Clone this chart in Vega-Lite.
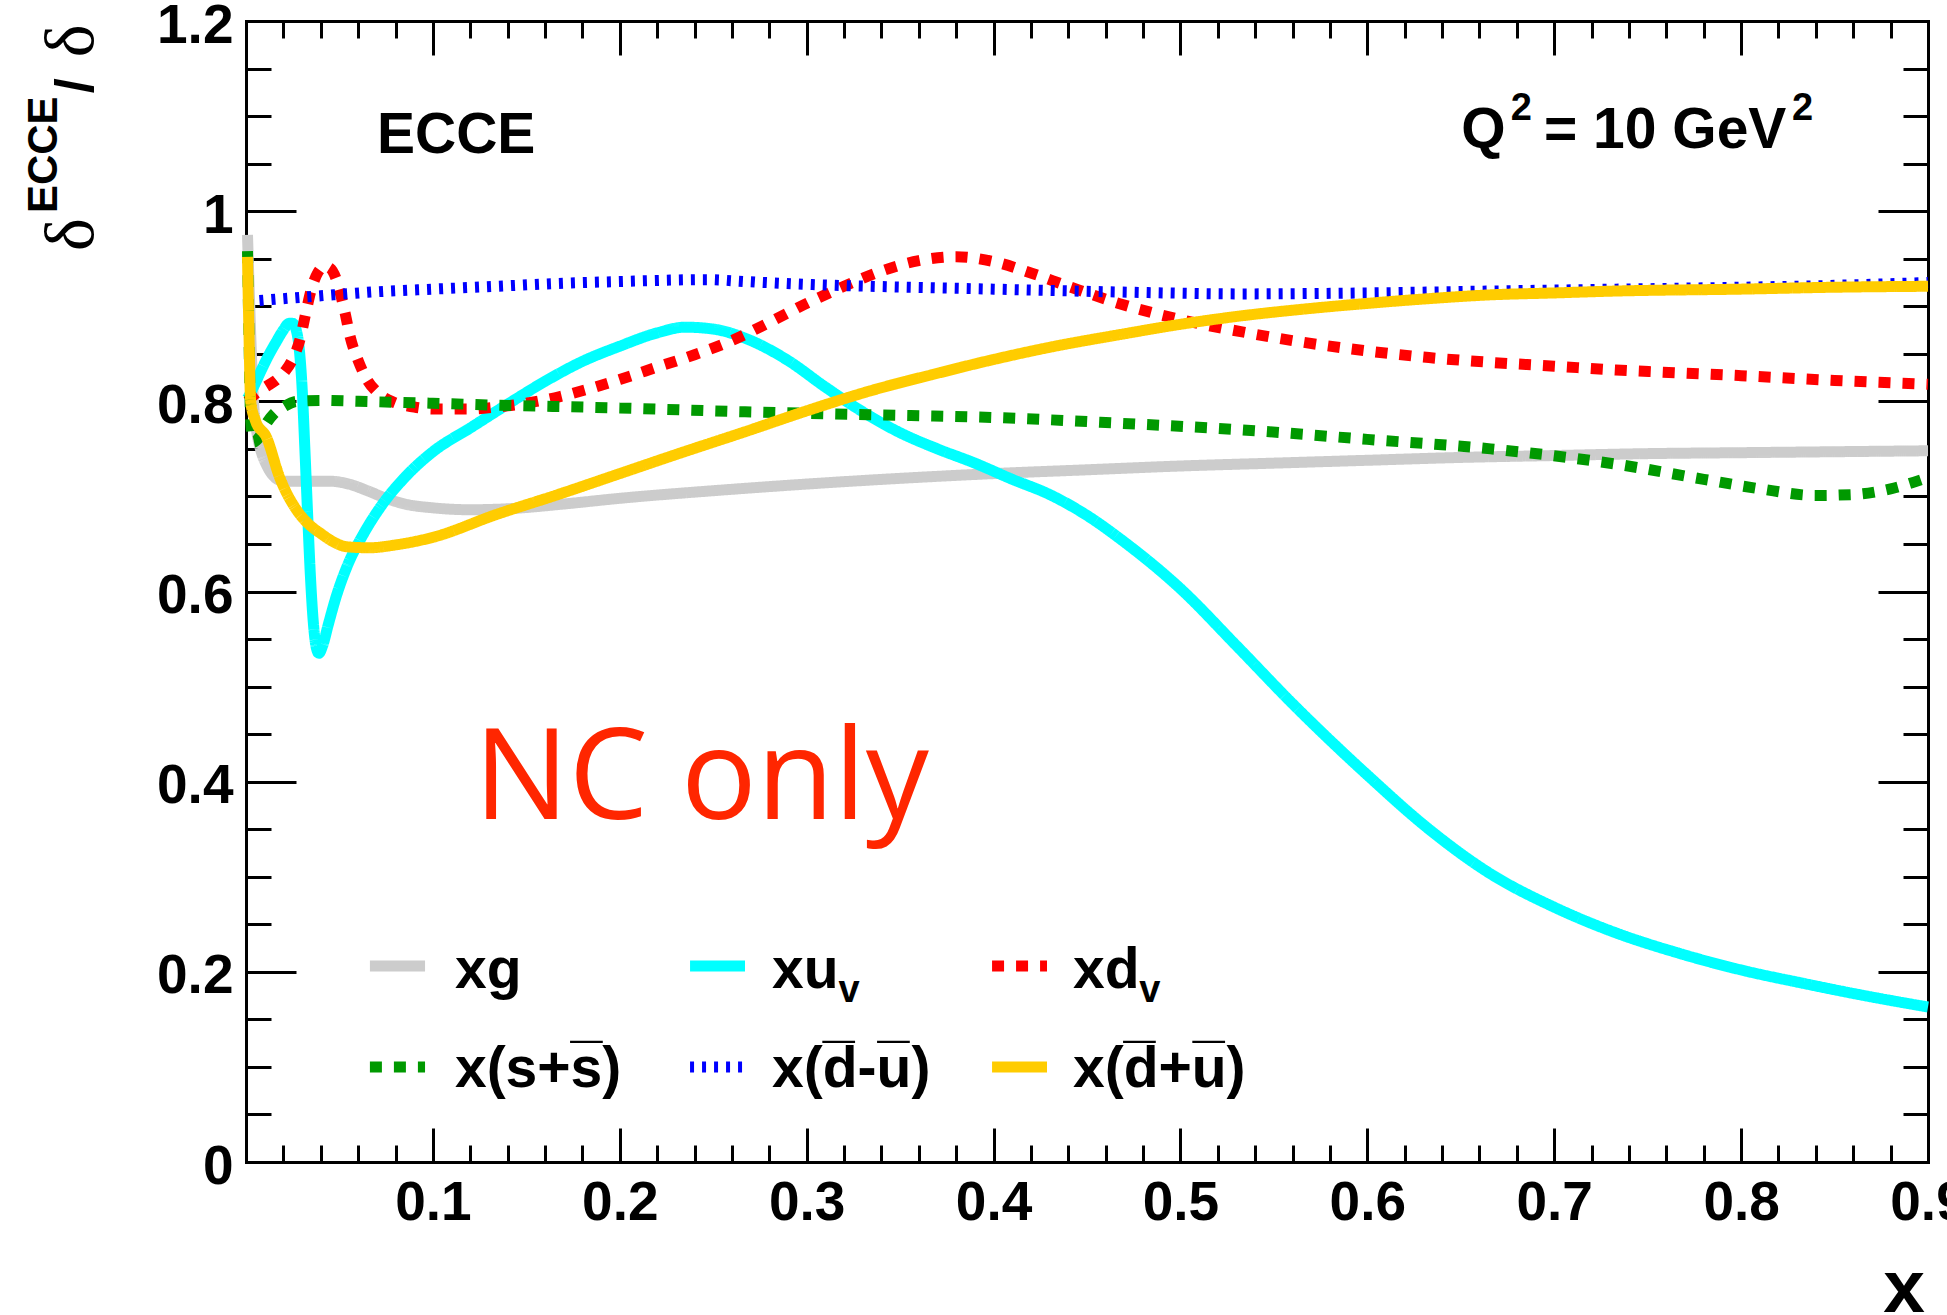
{
 "$schema": "https://vega.github.io/schema/vega-lite/v6.json",
 "width": 1682, "height": 1141,
 "autosize": {"type": "none"},
 "padding": {"left": 246, "top": 21, "right": 19, "bottom": 153},
 "background": "white",
 "config": {
  "view": {"stroke": null},
  "axis": {"grid": false, "domain": false, "tickColor": "black", "tickWidth": 3, "labelFont": "Liberation Sans", "labelFontWeight": "bold", "labelColor": "black", "labelFontSize": 55, "labelFlush": false, "labelOverlap": false, "zindex": 1, "domainColor": "black", "domainWidth": 3, "domainCap": "square"}
 },
 "resolve": {"axis": {"x": "independent", "y": "independent"}},
 "layer": [
  {
   "mark": {"type": "rule", "strokeDash": [12, 12], "strokeWidth": 2.5, "color": "black"},
   "encoding": {"y": {"datum": 1, "type": "quantitative", "scale": {"domain": [0, 1.2], "nice": false, "zero": false}, "axis": null}}
  },
  {
   "data": {"values": [
    {"s":"xg","x":0.0008,"y":0.975},{"s":"xg","x":0.002,"y":0.9},{"s":"xg","x":0.004,"y":0.8},{"s":"xg","x":0.006,"y":0.765},{"s":"xg","x":0.008,"y":0.748},{"s":"xg","x":0.011,"y":0.733},{"s":"xg","x":0.0145,"y":0.722},{"s":"xg","x":0.02,"y":0.716},{"s":"xg","x":0.03,"y":0.716},{"s":"xg","x":0.045,"y":0.716},{"s":"xg","x":0.055,"y":0.713},{"s":"xg","x":0.065,"y":0.706},{"s":"xg","x":0.075,"y":0.698},{"s":"xg","x":0.085,"y":0.692},{"s":"xg","x":0.1,"y":0.688},{"s":"xg","x":0.12,"y":0.686},{"s":"xg","x":0.14,"y":0.687},{"s":"xg","x":0.17,"y":0.692},{"s":"xg","x":0.2,"y":0.698},{"s":"xg","x":0.25,"y":0.706},{"s":"xg","x":0.3,"y":0.713},{"s":"xg","x":0.35,"y":0.719},{"s":"xg","x":0.4,"y":0.724},{"s":"xg","x":0.45,"y":0.728},{"s":"xg","x":0.5,"y":0.732},{"s":"xg","x":0.55,"y":0.735},{"s":"xg","x":0.6,"y":0.738},{"s":"xg","x":0.65,"y":0.741},{"s":"xg","x":0.7,"y":0.743},{"s":"xg","x":0.75,"y":0.745},{"s":"xg","x":0.8,"y":0.746},{"s":"xg","x":0.85,"y":0.747},{"s":"xg","x":0.9,"y":0.748},
    {"s":"xuv","x":0.0008,"y":0.803},{"s":"xuv","x":0.004,"y":0.815},{"s":"xuv","x":0.008,"y":0.832},{"s":"xuv","x":0.012,"y":0.848},{"s":"xuv","x":0.016,"y":0.862},{"s":"xuv","x":0.02,"y":0.875},{"s":"xuv","x":0.023,"y":0.882},{"s":"xuv","x":0.025,"y":0.882},{"s":"xuv","x":0.027,"y":0.874},{"s":"xuv","x":0.0285,"y":0.855},{"s":"xuv","x":0.03,"y":0.815},{"s":"xuv","x":0.0315,"y":0.75},{"s":"xuv","x":0.033,"y":0.68},{"s":"xuv","x":0.0345,"y":0.615},{"s":"xuv","x":0.036,"y":0.568},{"s":"xuv","x":0.0375,"y":0.542},{"s":"xuv","x":0.039,"y":0.535},{"s":"xuv","x":0.041,"y":0.543},{"s":"xuv","x":0.044,"y":0.565},{"s":"xuv","x":0.048,"y":0.593},{"s":"xuv","x":0.054,"y":0.626},{"s":"xuv","x":0.063,"y":0.661},{"s":"xuv","x":0.072,"y":0.689},{"s":"xuv","x":0.085,"y":0.72},{"s":"xuv","x":0.1,"y":0.747},{"s":"xuv","x":0.12,"y":0.772},{"s":"xuv","x":0.14,"y":0.797},{"s":"xuv","x":0.16,"y":0.821},{"s":"xuv","x":0.18,"y":0.842},{"s":"xuv","x":0.2,"y":0.858},{"s":"xuv","x":0.22,"y":0.872},{"s":"xuv","x":0.235,"y":0.878},{"s":"xuv","x":0.25,"y":0.876},{"s":"xuv","x":0.27,"y":0.864},{"s":"xuv","x":0.29,"y":0.843},{"s":"xuv","x":0.31,"y":0.815},{"s":"xuv","x":0.33,"y":0.789},{"s":"xuv","x":0.35,"y":0.767},{"s":"xuv","x":0.37,"y":0.75},{"s":"xuv","x":0.39,"y":0.735},{"s":"xuv","x":0.41,"y":0.718},{"s":"xuv","x":0.43,"y":0.702},{"s":"xuv","x":0.45,"y":0.68},{"s":"xuv","x":0.47,"y":0.652},{"s":"xuv","x":0.5,"y":0.603},{"s":"xuv","x":0.53,"y":0.543},{"s":"xuv","x":0.56,"y":0.482},{"s":"xuv","x":0.6,"y":0.407},{"s":"xuv","x":0.633,"y":0.35},{"s":"xuv","x":0.666,"y":0.303},{"s":"xuv","x":0.7,"y":0.268},{"s":"xuv","x":0.733,"y":0.241},{"s":"xuv","x":0.766,"y":0.22},{"s":"xuv","x":0.8,"y":0.202},{"s":"xuv","x":0.833,"y":0.188},{"s":"xuv","x":0.866,"y":0.175},{"s":"xuv","x":0.9,"y":0.163},
    {"s":"xdv","x":0.0008,"y":0.8},{"s":"xdv","x":0.004,"y":0.806},{"s":"xdv","x":0.008,"y":0.812},{"s":"xdv","x":0.012,"y":0.817},{"s":"xdv","x":0.0166,"y":0.823},{"s":"xdv","x":0.021,"y":0.832},{"s":"xdv","x":0.0246,"y":0.843},{"s":"xdv","x":0.029,"y":0.866},{"s":"xdv","x":0.032,"y":0.893},{"s":"xdv","x":0.035,"y":0.918},{"s":"xdv","x":0.0386,"y":0.936},{"s":"xdv","x":0.042,"y":0.942},{"s":"xdv","x":0.045,"y":0.94},{"s":"xdv","x":0.048,"y":0.93},{"s":"xdv","x":0.05,"y":0.917},{"s":"xdv","x":0.053,"y":0.893},{"s":"xdv","x":0.0557,"y":0.868},{"s":"xdv","x":0.06,"y":0.843},{"s":"xdv","x":0.065,"y":0.822},{"s":"xdv","x":0.07,"y":0.81},{"s":"xdv","x":0.079,"y":0.799},{"s":"xdv","x":0.09,"y":0.794},{"s":"xdv","x":0.1,"y":0.792},{"s":"xdv","x":0.12,"y":0.792},{"s":"xdv","x":0.134,"y":0.794},{"s":"xdv","x":0.15,"y":0.798},{"s":"xdv","x":0.168,"y":0.805},{"s":"xdv","x":0.185,"y":0.814},{"s":"xdv","x":0.2,"y":0.823},{"s":"xdv","x":0.22,"y":0.836},{"s":"xdv","x":0.24,"y":0.849},{"s":"xdv","x":0.26,"y":0.864},{"s":"xdv","x":0.28,"y":0.883},{"s":"xdv","x":0.3,"y":0.903},{"s":"xdv","x":0.32,"y":0.921},{"s":"xdv","x":0.34,"y":0.937},{"s":"xdv","x":0.36,"y":0.948},{"s":"xdv","x":0.38,"y":0.952},{"s":"xdv","x":0.4,"y":0.947},{"s":"xdv","x":0.42,"y":0.935},{"s":"xdv","x":0.44,"y":0.921},{"s":"xdv","x":0.467,"y":0.903},{"s":"xdv","x":0.5,"y":0.886},{"s":"xdv","x":0.533,"y":0.873},{"s":"xdv","x":0.566,"y":0.862},{"s":"xdv","x":0.6,"y":0.853},{"s":"xdv","x":0.633,"y":0.846},{"s":"xdv","x":0.666,"y":0.841},{"s":"xdv","x":0.7,"y":0.837},{"s":"xdv","x":0.733,"y":0.833},{"s":"xdv","x":0.766,"y":0.83},{"s":"xdv","x":0.8,"y":0.827},{"s":"xdv","x":0.85,"y":0.822},{"s":"xdv","x":0.9,"y":0.818},
    {"s":"xss","x":0.0008,"y":0.958},{"s":"xss","x":0.0015,"y":0.88},{"s":"xss","x":0.0025,"y":0.78},{"s":"xss","x":0.004,"y":0.757},{"s":"xss","x":0.007,"y":0.762},{"s":"xss","x":0.011,"y":0.777},{"s":"xss","x":0.015,"y":0.787},{"s":"xss","x":0.02,"y":0.794},{"s":"xss","x":0.027,"y":0.8},{"s":"xss","x":0.04,"y":0.801},{"s":"xss","x":0.06,"y":0.8},{"s":"xss","x":0.08,"y":0.799},{"s":"xss","x":0.1,"y":0.798},{"s":"xss","x":0.134,"y":0.796},{"s":"xss","x":0.2,"y":0.793},{"s":"xss","x":0.267,"y":0.789},{"s":"xss","x":0.333,"y":0.786},{"s":"xss","x":0.4,"y":0.783},{"s":"xss","x":0.467,"y":0.777},{"s":"xss","x":0.533,"y":0.77},{"s":"xss","x":0.6,"y":0.76},{"s":"xss","x":0.666,"y":0.75},{"s":"xss","x":0.733,"y":0.734},{"s":"xss","x":0.78,"y":0.718},{"s":"xss","x":0.81,"y":0.708},{"s":"xss","x":0.84,"y":0.701},{"s":"xss","x":0.86,"y":0.702},{"s":"xss","x":0.88,"y":0.708},{"s":"xss","x":0.9,"y":0.72},
    {"s":"xdmu","x":0.0008,"y":0.905},{"s":"xdmu","x":0.02,"y":0.908},{"s":"xdmu","x":0.04,"y":0.911},{"s":"xdmu","x":0.068,"y":0.915},{"s":"xdmu","x":0.1,"y":0.918},{"s":"xdmu","x":0.134,"y":0.921},{"s":"xdmu","x":0.167,"y":0.924},{"s":"xdmu","x":0.2,"y":0.926},{"s":"xdmu","x":0.247,"y":0.928},{"s":"xdmu","x":0.267,"y":0.926},{"s":"xdmu","x":0.3,"y":0.923},{"s":"xdmu","x":0.334,"y":0.921},{"s":"xdmu","x":0.4,"y":0.918},{"s":"xdmu","x":0.467,"y":0.915},{"s":"xdmu","x":0.533,"y":0.913},{"s":"xdmu","x":0.6,"y":0.914},{"s":"xdmu","x":0.666,"y":0.916},{"s":"xdmu","x":0.733,"y":0.918},{"s":"xdmu","x":0.8,"y":0.92},{"s":"xdmu","x":0.85,"y":0.922},{"s":"xdmu","x":0.9,"y":0.925},
    {"s":"xdpu","x":0.0008,"y":0.952},{"s":"xdpu","x":0.0015,"y":0.88},{"s":"xdpu","x":0.0025,"y":0.8},{"s":"xdpu","x":0.005,"y":0.78},{"s":"xdpu","x":0.011,"y":0.762},{"s":"xdpu","x":0.018,"y":0.72},{"s":"xdpu","x":0.027,"y":0.686},{"s":"xdpu","x":0.034,"y":0.67},{"s":"xdpu","x":0.04,"y":0.661},{"s":"xdpu","x":0.047,"y":0.652},{"s":"xdpu","x":0.054,"y":0.647},{"s":"xdpu","x":0.066,"y":0.646},{"s":"xdpu","x":0.08,"y":0.649},{"s":"xdpu","x":0.1,"y":0.657},{"s":"xdpu","x":0.134,"y":0.681},{"s":"xdpu","x":0.167,"y":0.702},{"s":"xdpu","x":0.2,"y":0.724},{"s":"xdpu","x":0.233,"y":0.746},{"s":"xdpu","x":0.267,"y":0.768},{"s":"xdpu","x":0.3,"y":0.79},{"s":"xdpu","x":0.334,"y":0.811},{"s":"xdpu","x":0.367,"y":0.828},{"s":"xdpu","x":0.4,"y":0.844},{"s":"xdpu","x":0.433,"y":0.858},{"s":"xdpu","x":0.467,"y":0.87},{"s":"xdpu","x":0.5,"y":0.881},{"s":"xdpu","x":0.533,"y":0.89},{"s":"xdpu","x":0.566,"y":0.897},{"s":"xdpu","x":0.6,"y":0.903},{"s":"xdpu","x":0.633,"y":0.908},{"s":"xdpu","x":0.666,"y":0.912},{"s":"xdpu","x":0.7,"y":0.914},{"s":"xdpu","x":0.733,"y":0.916},{"s":"xdpu","x":0.8,"y":0.918},{"s":"xdpu","x":0.85,"y":0.92},{"s":"xdpu","x":0.9,"y":0.921}
   ]},
   "mark": {"type": "line", "strokeWidth": 11, "interpolate": "monotone"},
   "encoding": {
    "x": {"field": "x", "type": "quantitative", "scale": {"domain": [0, 0.9], "nice": false, "zero": false},
          "axis": {"orient": "bottom", "values": [0.1,0.2,0.3,0.4,0.5,0.6,0.7,0.8,0.9], "format": "~g", "ticks": false, "labelPadding": 14, "domain": true, "title": null}},
    "y": {"field": "y", "type": "quantitative", "scale": {"domain": [0, 1.2], "nice": false, "zero": false},
          "axis": {"orient": "left", "values": [0,0.2,0.4,0.6,0.8,1,1.2], "format": "~g", "ticks": false, "labelPadding": 13, "labelOffset": 4, "domain": true, "title": null}},
    "color": {"field": "s", "type": "nominal", "scale": {"domain": ["xg","xuv","xdv","xss","xdmu","xdpu"], "range": ["#cccccc","#00ffff","#ff0000","#009900","#0000ff","#ffcc00"]}, "legend": null},
    "strokeDash": {"field": "s", "type": "nominal", "scale": {"domain": ["xg","xuv","xdv","xss","xdmu","xdpu"], "range": [[1,0],[1,0],[12,12],[12,12],[4,8],[1,0]]}, "legend": null}
   }
  },
  {
   "data": {"values": [
    {"s":"xg","x1":0.0663,"x2":0.0958,"y":0.2061},
    {"s":"xuv","x1":0.2376,"x2":0.267,"y":0.2061},
    {"s":"xdv","x1":0.3992,"x2":0.4286,"y":0.2061},
    {"s":"xss","x1":0.0663,"x2":0.0958,"y":0.0999},
    {"s":"xdmu","x1":0.2376,"x2":0.267,"y":0.0999},
    {"s":"xdpu","x1":0.3992,"x2":0.4286,"y":0.0999}
   ]},
   "mark": {"type": "rule", "strokeWidth": 11},
   "encoding": {
    "x": {"field": "x1", "type": "quantitative", "scale": {"domain": [0, 0.9], "nice": false, "zero": false},
          "axis": {"orient": "bottom", "values": [0.1,0.2,0.3,0.4,0.5,0.6,0.7,0.8], "tickSize": -34, "labels": false, "title": null}},
    "x2": {"field": "x2"},
    "y": {"field": "y", "type": "quantitative", "scale": {"domain": [0, 1.2], "nice": false, "zero": false},
          "axis": {"orient": "left", "values": [0.2,0.4,0.6,0.8,1], "tickSize": -50, "labels": false, "title": null}},
    "color": {"field": "s", "type": "nominal", "legend": null},
    "strokeDash": {"field": "s", "type": "nominal", "legend": null}
   }
  },
  {
   "data": {"values": [
    {"t":"ECCE","x":0.0701,"y":1.0612},
    {"t":"Q","x":0.6502,"y":1.0665},
    {"t":"= 10 GeV","x":0.6945,"y":1.0665},
    {"t":"xg","x":0.1118,"y":0.183},
    {"t":"xu","x":0.2815,"y":0.183},
    {"t":"xd","x":0.4425,"y":0.183},
    {"t":"x(s+s̅)","x":0.1118,"y":0.0789},
    {"t":"x(d̅-u̅)","x":0.2815,"y":0.0789},
    {"t":"x(d̅+u̅)","x":0.4425,"y":0.0789}
   ]},
   "mark": {"type": "text", "font": "Liberation Sans", "fontWeight": "bold", "fontSize": 57, "align": "left", "baseline": "alphabetic", "color": "black"},
   "encoding": {
    "x": {"field": "x", "type": "quantitative", "scale": {"domain": [0, 0.9], "nice": false, "zero": false},
          "axis": {"orient": "bottom", "values": [0.02,0.04,0.06,0.08,0.12,0.14,0.16,0.18,0.22,0.24,0.26,0.28,0.32,0.34,0.36,0.38,0.42,0.44,0.46,0.48,0.52,0.54,0.56,0.58,0.62,0.64,0.66,0.68,0.72,0.74,0.76,0.78,0.82,0.84,0.86,0.88], "tickSize": -17, "labels": false, "title": null}},
    "y": {"field": "y", "type": "quantitative", "scale": {"domain": [0, 1.2], "nice": false, "zero": false},
          "axis": {"orient": "left", "values": [0.05,0.1,0.15,0.25,0.3,0.35,0.45,0.5,0.55,0.65,0.7,0.75,0.85,0.9,0.95,1.05,1.1,1.15], "tickSize": -25, "labels": false, "title": null}},
    "text": {"field": "t"}
   }
  },
  {
   "data": {"values": [
    {"t":"2","x":0.6767,"y":1.0959},
    {"t":"2","x":0.8272,"y":1.0959},
    {"t":"v","x":0.317,"y":0.1683},
    {"t":"v","x":0.478,"y":0.1683}
   ]},
   "mark": {"type": "text", "font": "Liberation Sans", "fontWeight": "bold", "fontSize": 38, "align": "left", "baseline": "alphabetic", "color": "black"},
   "encoding": {
    "x": {"field": "x", "type": "quantitative", "scale": {"domain": [0, 0.9], "nice": false, "zero": false},
          "axis": {"orient": "top", "values": [0.1,0.2,0.3,0.4,0.5,0.6,0.7,0.8], "tickSize": -34, "labels": false, "domain": true, "title": null}},
    "y": {"field": "y", "type": "quantitative", "scale": {"domain": [0, 1.2], "nice": false, "zero": false},
          "axis": {"orient": "right", "values": [0.2,0.4,0.6,0.8,1], "tickSize": -50, "labels": false, "domain": true, "title": null}},
    "text": {"field": "t"}
   }
  },
  {
   "data": {"values": [{"t":"NC only","x":0.122,"y":0.3608}]},
   "mark": {"type": "text", "font": "Open Sans", "fontSize": 126, "align": "left", "baseline": "alphabetic", "color": "#ff2600"},
   "encoding": {
    "x": {"field": "x", "type": "quantitative", "scale": {"domain": [0, 0.9], "nice": false, "zero": false},
          "axis": {"orient": "top", "values": [0.02,0.04,0.06,0.08,0.12,0.14,0.16,0.18,0.22,0.24,0.26,0.28,0.32,0.34,0.36,0.38,0.42,0.44,0.46,0.48,0.52,0.54,0.56,0.58,0.62,0.64,0.66,0.68,0.72,0.74,0.76,0.78,0.82,0.84,0.86,0.88], "tickSize": -17, "labels": false, "title": null}},
    "y": {"field": "y", "type": "quantitative", "scale": {"domain": [0, 1.2], "nice": false, "zero": false},
          "axis": {"orient": "right", "values": [0.05,0.1,0.15,0.25,0.3,0.35,0.45,0.5,0.55,0.65,0.7,0.75,0.85,0.9,0.95,1.05,1.1,1.15], "tickSize": -25, "labels": false, "title": null}},
    "text": {"field": "t"}
   }
  },
  {
   "data": {"values": [{"t":"x","x":0.8984,"y":-0.1578}]},
   "mark": {"type": "text", "font": "Liberation Sans", "fontWeight": "bold", "fontSize": 75, "align": "right", "baseline": "alphabetic", "color": "black"},
   "encoding": {
    "x": {"field": "x", "type": "quantitative", "scale": {"domain": [0, 0.9], "nice": false, "zero": false}, "axis": null},
    "y": {"field": "y", "type": "quantitative", "scale": {"domain": [0, 1.2], "nice": false, "zero": false}, "axis": null},
    "text": {"field": "t"}
   }
  },
  {
   "data": {"values": [{"t":"δ","x":-0.0819,"y":0.958},{"t":"δ","x":-0.0819,"y":1.162}]},
   "mark": {"type": "text", "font": "Liberation Serif", "fontSize": 70, "angle": 270, "align": "left", "baseline": "alphabetic", "color": "black"},
   "encoding": {
    "x": {"field": "x", "type": "quantitative", "scale": {"domain": [0, 0.9], "nice": false, "zero": false}, "axis": null},
    "y": {"field": "y", "type": "quantitative", "scale": {"domain": [0, 1.2], "nice": false, "zero": false}, "axis": null},
    "text": {"field": "t"}
   }
  },
  {
   "data": {"values": [{"t":"ECCE","x":-0.1011,"y":0.998}]},
   "mark": {"type": "text", "font": "Liberation Sans", "fontWeight": "bold", "fontSize": 42, "angle": 270, "align": "left", "baseline": "alphabetic", "color": "black"},
   "encoding": {
    "x": {"field": "x", "type": "quantitative", "scale": {"domain": [0, 0.9], "nice": false, "zero": false}, "axis": null},
    "y": {"field": "y", "type": "quantitative", "scale": {"domain": [0, 1.2], "nice": false, "zero": false}, "axis": null},
    "text": {"field": "t"}
   }
  },
  {
   "data": {"values": [{"t":"/","x":-0.0819,"y":1.124}]},
   "mark": {"type": "text", "font": "Liberation Sans", "fontWeight": "bold", "fontSize": 54, "angle": 270, "align": "left", "baseline": "alphabetic", "color": "black"},
   "encoding": {
    "x": {"field": "x", "type": "quantitative", "scale": {"domain": [0, 0.9], "nice": false, "zero": false}, "axis": null},
    "y": {"field": "y", "type": "quantitative", "scale": {"domain": [0, 1.2], "nice": false, "zero": false}, "axis": null},
    "text": {"field": "t"}
   }
  }
 ]
}
